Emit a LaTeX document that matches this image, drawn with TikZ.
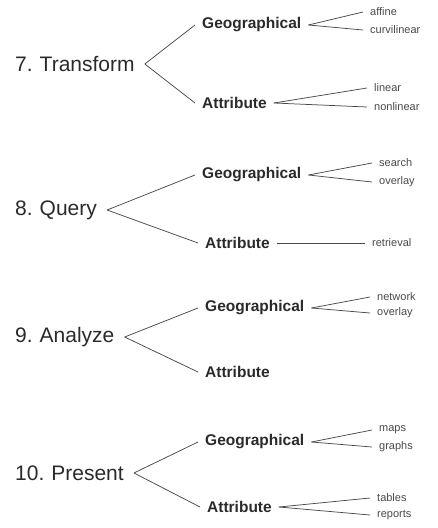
\documentclass[tikz,border=0pt]{standalone}
\usepackage{fontspec}
\setmainfont{Liberation Sans}
\usepackage{xcolor}
\usepackage{tikz}
\usetikzlibrary{positioning}

\definecolor{ink}{HTML}{2A2A2A}
\definecolor{softink}{HTML}{4A4A4A}

\begin{document}
\begin{tikzpicture}[
  x=1pt, y=-1pt,
  step name/.style={
    anchor=west, inner xsep=10pt, inner ysep=2pt, text=ink,
    font=\fontsize{21}{24}\selectfont
  },
  kind/.style={
    anchor=west, inner xsep=7pt, inner ysep=2pt, text=ink,
    font=\bfseries\fontsize{15.5}{18}\selectfont
  },
  leaf/.style={
    anchor=west, inner xsep=7pt, inner ysep=1pt, text=softink,
    font=\fontsize{11}{13}\selectfont
  },
  line/.style={draw, line width=0.75pt, color=softink}
]
  \useasboundingbox (0,0) rectangle (437,528);

  % 7. Transform
  \node [step name] (transform) at (5,64) {7.\,\,Transform};
  \node [kind] (tgeo) at (195,25) {Geographical};
  \node [kind] (tatt) at (195,103) {Attribute};
  \node [leaf] (affine) at (363,12) {affine};
  \node [leaf] (curvi) at (363,30) {curvilinear};
  \node [leaf] (linear) at (367,88) {linear};
  \node [leaf] (nonlinear) at (367,107) {nonlinear};

  \path [line] (transform.east) -- (tgeo.west);
  \path [line] (transform.east) -- (tatt.west);
  \path [line] (tgeo.east) -- (affine.west);
  \path [line] (tgeo.east) -- (curvi.west);
  \path [line] (tatt.east) -- (linear.west);
  \path [line] (tatt.east) -- (nonlinear.west);

  % 8. Query
  \node [step name] (query) at (5,210) {8.\,\,Query};
  \node [kind] (qgeo) at (195,175) {Geographical};
  \node [kind] (qatt) at (198,243) {Attribute};
  \node [leaf] (search) at (372,163) {search};
  \node [leaf] (qoverlay) at (372,182) {overlay};
  \node [leaf] (retrieval) at (365,243) {retrieval};

  \path [line] (query.east) -- (qgeo.west);
  \path [line] (query.east) -- (qatt.west);
  \path [line] (qgeo.east) -- (search.west);
  \path [line] (qgeo.east) -- (qoverlay.west);
  \path [line] (qatt.east) -- (retrieval.west);

  % 9. Analyze
  \node [step name] (analyze) at (5,337) {9.\,\,Analyze};
  \node [kind] (ageo) at (198,308) {Geographical};
  \node [kind] (aatt) at (198,372) {Attribute};
  \node [leaf] (network) at (370,297) {network};
  \node [leaf] (aoverlay) at (370,313) {overlay};

  \path [line] (analyze.east) -- (ageo.west);
  \path [line] (analyze.east) -- (aatt.west);
  \path [line] (ageo.east) -- (network.west);
  \path [line] (ageo.east) -- (aoverlay.west);

  % 10. Present
  \node [step name] (present) at (5,473) {10.\,\,Present};
  \node [kind] (pgeo) at (198,442) {Geographical};
  \node [kind] (patt) at (200,507) {Attribute};
  \node [leaf] (maps) at (372,430) {maps};
  \node [leaf] (graphs) at (372,447) {graphs};
  \node [leaf] (tables) at (370,498) {tables};
  \node [leaf] (reports) at (370,515) {reports};

  \path [line] (present.east) -- (pgeo.west);
  \path [line] (present.east) -- (patt.west);
  \path [line] (pgeo.east) -- (maps.west);
  \path [line] (pgeo.east) -- (graphs.west);
  \path [line] (patt.east) -- (tables.west);
  \path [line] (patt.east) -- (reports.west);

\end{tikzpicture}
\end{document}
